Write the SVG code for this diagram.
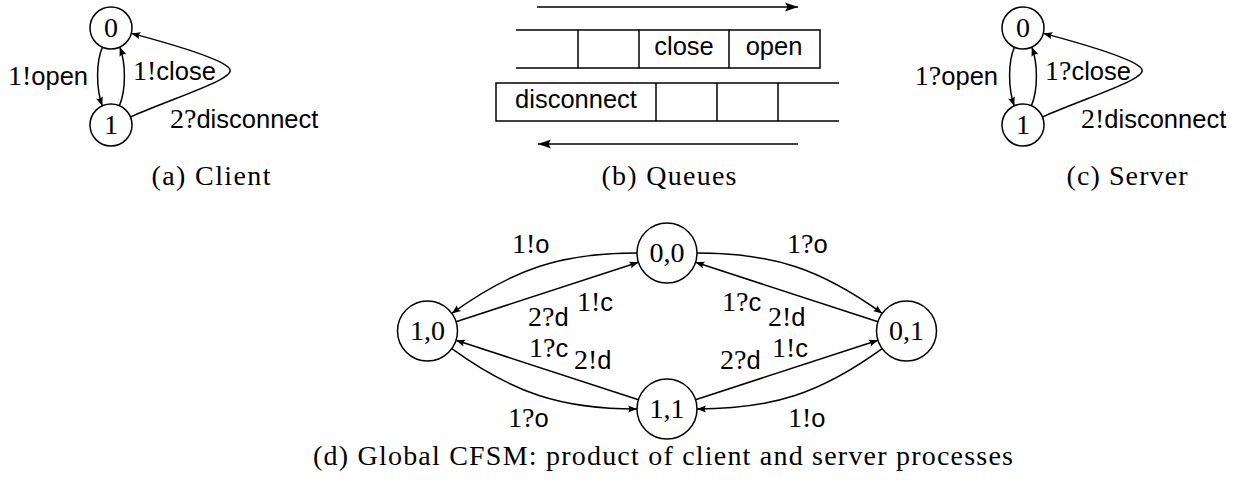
<svg xmlns="http://www.w3.org/2000/svg" width="1241" height="481" viewBox="0 0 1241 481">
<style>
.n{fill:#fff;stroke:#000;stroke-width:1.5}
.e{fill:none;stroke:#000;stroke-width:1.5;marker-end:url(#ah)}
.qa{fill:none;stroke:#000;stroke-width:1.5;marker-end:url(#ahb)}
.q{fill:none;stroke:#000;stroke-width:1.5}
.m{font-family:"Liberation Serif","DejaVu Serif",serif;font-size:28px;fill:#000}
.s{font-family:"Liberation Sans","DejaVu Sans",sans-serif;font-size:25.5px;fill:#000}
.c{text-anchor:middle}
</style>
<defs>
<marker id="ah" viewBox="-10 -5 11 10" refX="0" refY="0" markerWidth="11" markerHeight="10" markerUnits="userSpaceOnUse" orient="auto"><path d="M0,0 L-9,-3.6 Q-6.3,0 -9,3.6 Z" fill="#000"/></marker>
<marker id="ahb" viewBox="-14 -6 15 12" refX="0" refY="0" markerWidth="15" markerHeight="12" markerUnits="userSpaceOnUse" orient="auto"><path d="M0,0 L-13,-4.6 Q-9,0 -13,4.6 Z" fill="#000"/></marker>
</defs>
<rect width="1241" height="481" fill="#fff"/>

<g id="connectors">
<!-- client -->
<path class="e" d="M102.4,47.2 C96,62 96,88 102.3,105.9"/>
<path class="e" d="M119.5,105.5 C126,90 126,64 119.8,47.1"/>
<path class="e" d="M130.5,117 C175,97 240,78 229,68 C220,58 175,45 131.5,33.4"/>
<!-- server -->
<path class="e" d="M1014.4,47.2 C1008,62 1008,88 1014.3,105.9"/>
<path class="e" d="M1031.5,105.5 C1038,90 1038,64 1031.8,47.1"/>
<path class="e" d="M1042.5,117 C1087,97 1152,78 1141,68 C1132,58 1087,45 1043.5,33.4"/>
<!-- queues arrows -->
<path class="qa" d="M537,7 L798,7"/>
<path class="qa" d="M798,144 L538,144"/>
<!-- global -->
<path class="e" d="M637,253 C561,253 513.4,268.9 451.8,313.4"/>
<path class="e" d="M456,321.7 L638.5,262.3"/>
<path class="e" d="M638.5,399.7 L456,340.3"/>
<path class="e" d="M451.8,348.6 C513.4,393.1 561,409 637,409"/>
<path class="e" d="M697,253 C773,253 820.6,268.9 882.2,313.4"/>
<path class="e" d="M878,321.7 L695.5,262.3"/>
<path class="e" d="M695.5,399.7 L878,340.3"/>
<path class="e" d="M882.2,348.6 C820.6,393.1 773,409 697,409"/>
</g>

<!-- client -->
<g id="client-0"><circle class="n" cx="111" cy="28" r="21"/><text class="m c" x="111" y="37">0</text></g>
<g id="client-1"><circle class="n" cx="111" cy="125" r="21"/><text class="m c" x="111" y="134">1</text></g>
<text class="m" x="88" y="85" text-anchor="end">1!<tspan class="s">open</tspan></text>
<text class="m" x="133" y="80">1!<tspan class="s">close</tspan></text>
<text class="m" x="170" y="128">2?<tspan class="s">disconnect</tspan></text>
<text class="m c" x="211" y="185" textLength="119">(a) Client</text>

<!-- server -->
<g id="server-0"><circle class="n" cx="1023" cy="28" r="21"/><text class="m c" x="1023" y="37">0</text></g>
<g id="server-1"><circle class="n" cx="1023" cy="125" r="21"/><text class="m c" x="1023" y="134">1</text></g>
<text class="m" x="998" y="85" text-anchor="end">1?<tspan class="s">open</tspan></text>
<text class="m" x="1045" y="80">1?<tspan class="s">close</tspan></text>
<text class="m" x="1081" y="128">2!<tspan class="s">disconnect</tspan></text>
<text class="m c" x="1127" y="185" textLength="121">(c) Server</text>

<!-- queues -->
<g id="queue-top">
<path class="q" d="M516,30 H820 V68 H516 M578,30 V68 M639,30 V68 M729,30 V68"/>
<text class="s c" x="684" y="55">close</text>
<text class="s c" x="774" y="55">open</text>
</g>
<g id="queue-bottom">
<path class="q" d="M839,83 H496 V121 H839 M656,83 V121 M717,83 V121 M778,83 V121"/>
<text class="s c" x="576" y="108">disconnect</text>
</g>
<text class="m c" x="669" y="185" textLength="135">(b) Queues</text>

<!-- global -->
<g id="g00"><circle class="n" cx="667" cy="253" r="30"/><text class="m c" x="667" y="262">0,0</text></g>
<g id="g10"><circle class="n" cx="427.5" cy="331" r="30"/><text class="m c" x="427.5" y="340">1,0</text></g>
<g id="g01"><circle class="n" cx="906.5" cy="331" r="30"/><text class="m c" x="906.5" y="340">0,1</text></g>
<g id="g11"><circle class="n" cx="667" cy="409" r="30"/><text class="m c" x="667" y="418">1,1</text></g>
<text class="m" x="512" y="253">1!<tspan class="s">o</tspan></text>
<text class="m" x="787" y="253">1?<tspan class="s">o</tspan></text>
<text class="m" x="528" y="326">2?<tspan class="s">d</tspan></text>
<text class="m" x="577" y="311">1!<tspan class="s">c</tspan></text>
<text class="m" x="529" y="357">1?<tspan class="s">c</tspan></text>
<text class="m" x="574" y="369">2!<tspan class="s">d</tspan></text>
<text class="m" x="722" y="311">1?<tspan class="s">c</tspan></text>
<text class="m" x="768" y="326">2!<tspan class="s">d</tspan></text>
<text class="m" x="720" y="369">2?<tspan class="s">d</tspan></text>
<text class="m" x="772" y="357">1!<tspan class="s">c</tspan></text>
<text class="m" x="508" y="427">1?<tspan class="s">o</tspan></text>
<text class="m" x="788" y="427">1!<tspan class="s">o</tspan></text>
<text class="m" x="313" y="465" textLength="700">(d) Global CFSM: product of client and server processes</text>
</svg>
